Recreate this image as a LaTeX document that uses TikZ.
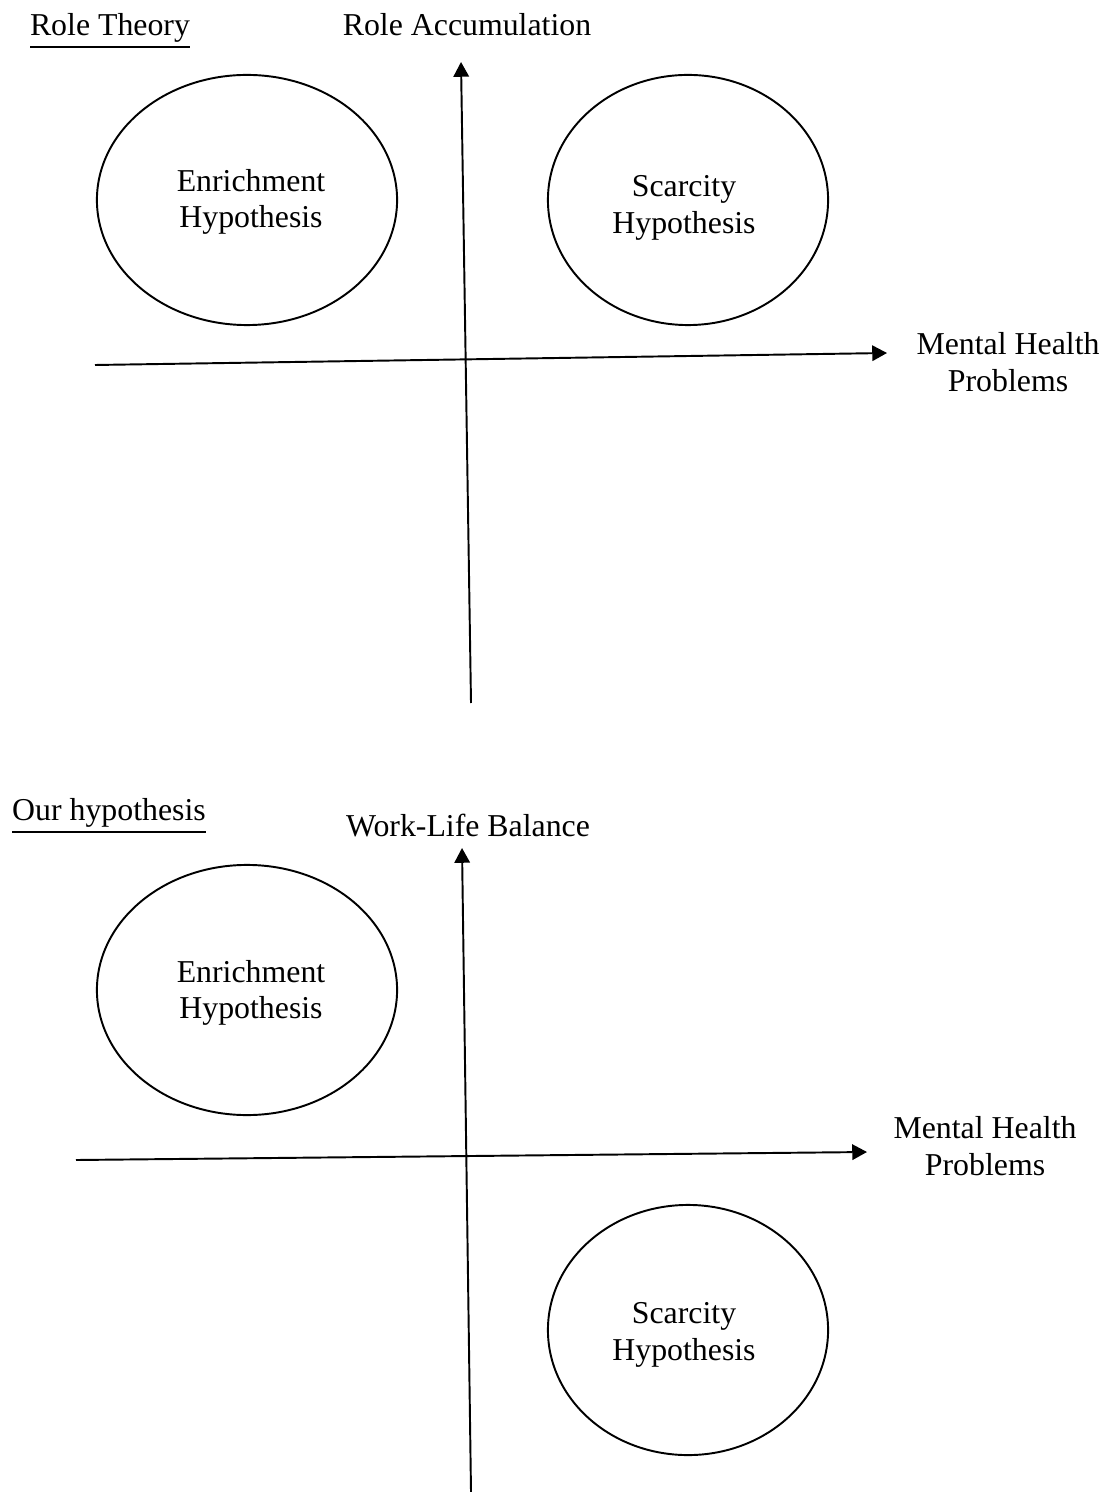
\documentclass[tikz,border=0pt]{standalone}
\usepackage{fontspec}
\setmainfont{Liberation Serif}
\usetikzlibrary{arrows.meta,shapes.geometric}

\begin{document}
\begin{tikzpicture}[x=0.01cm,y=-0.01cm,
    font=\fontsize{9.05}{10.4}\selectfont,
    axis/.style={line width=0.55pt,-{Triangle[length=4.2pt,width=4.4pt]}},
    hypo/.style={draw,ellipse,line width=0.55pt,minimum width=3cm,minimum height=2.5cm,inner sep=0pt},
    hypotext/.style={align=center}]
  \useasboundingbox (0,0) rectangle (1109,1492);
  % role theory
  \node (roletheory) at (110,31) {\underline{Role Theory}};
  \node (roleacc) at (467,25) {Role Accumulation};
  \coordinate (vbot1) at (471,703);
  \coordinate (vtop1) at (461,62);
  \coordinate (hleft1) at (95,365);
  \coordinate (hright1) at (887,353);
  \draw[axis] (vbot1) -- (vtop1);
  \draw[axis] (hleft1) -- (hright1);
  \node[align=center] (mhp1) at (1008,362) {Mental Health\\Problems};
  \node[hypo] (enrich1) at (247,200) {};
  \node[hypotext] (enrich1txt) at (251,202) {Enrichment\\Hypothesis};
  \node[hypo,minimum width=2.8cm] (scarce1) at (688,200) {};
  \node[hypotext] (scarce1txt) at (684,208) {Scarcity\\Hypothesis};
  % our hypothesis
  \node (ourhyp) at (109,816) {\underline{Our hypothesis}};
  \node (wlb) at (468,826) {Work-Life Balance};
  \coordinate (vbot2) at (471,1492);
  \coordinate (vtop2) at (462,848);
  \coordinate (hleft2) at (76,1160);
  \coordinate (hright2) at (867,1152);
  \draw[axis] (vbot2) -- (vtop2);
  \draw[axis] (hleft2) -- (hright2);
  \node[align=center] (mhp2) at (985,1146) {Mental Health\\Problems};
  \node[hypo] (enrich2) at (247,990) {};
  \node[hypotext] (enrich2txt) at (251,993) {Enrichment\\Hypothesis};
  \node[hypo,minimum width=2.8cm] (scarce2) at (688,1330) {};
  \node[hypotext] (scarce2txt) at (684,1335) {Scarcity\\Hypothesis};
\end{tikzpicture}
\end{document}
